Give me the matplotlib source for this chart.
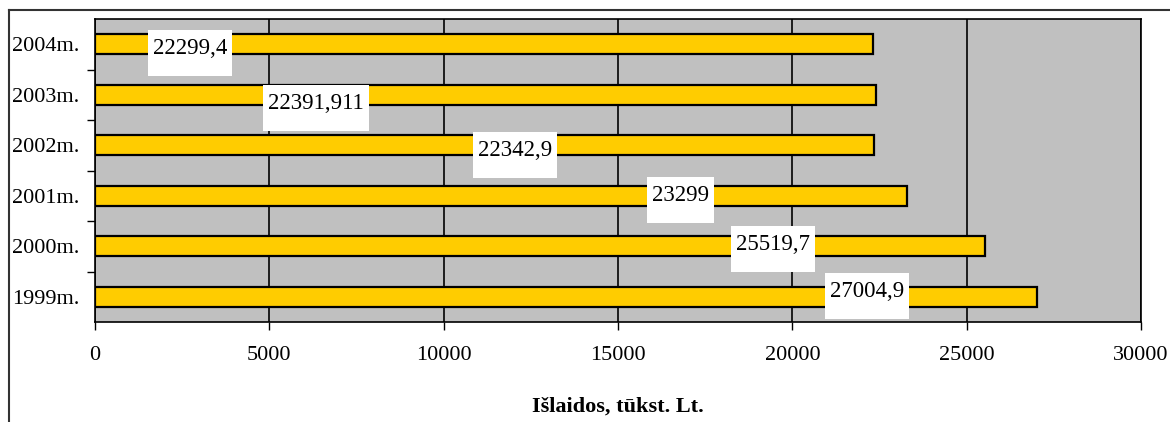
import matplotlib.pyplot as plt
from matplotlib.patches import Rectangle
from matplotlib.lines import Line2D

years = ["1999m.", "2000m.", "2001m.", "2002m.", "2003m.", "2004m."]
spending = [27004.9, 25519.7, 23299, 22342.9, 22391.911, 22299.4]
x_ticks = [0, 5000, 10000, 15000, 20000, 25000, 30000]

# where each value box sits: left edge (data units) and top offset from the bar centre
label_left = [20937, 18241, 15832, 10841, 4818, 1520]
label_top = [0.47, 0.40, 0.37, 0.26, 0.19, 0.28]

plt.rcParams["font.family"] = ["Liberation Serif", "DejaVu Serif"]

fig = plt.figure(figsize=(11.7, 4.22), dpi=100)
ax = fig.add_axes([95 / 1170, 1 - 322 / 422, 1046 / 1170, 303 / 422])

pos = list(range(len(years)))
ax.barh(pos, spending, height=0.4, color="#FFCC00", edgecolor="black",
        linewidth=1.6, zorder=2)

ax.set_facecolor("#C0C0C0")
ax.set_xlim(0, 30000)
ax.set_ylim(-0.5, len(years) - 0.5)
ax.set_xticks(x_ticks)
ax.set_xticklabels([str(t) for t in x_ticks], fontsize=16)
ax.set_yticks(pos)
ax.set_yticklabels(years, fontsize=16)
ax.set_yticks([p + 0.5 for p in pos[:-1]], minor=True)
ax.tick_params(axis="y", which="major", length=0, pad=11)
ax.tick_params(axis="y", which="minor", length=6, width=1, direction="out")
ax.tick_params(axis="x", length=6, width=1, direction="out", pad=11)
ax.grid(axis="x", color="black", linewidth=1.2, zorder=1)
ax.set_axisbelow(True)
for s in ax.spines.values():
    s.set_color("black")
    s.set_linewidth(1.2)

fig.text(618 / 1170, 1 - 407 / 422, "Išlaidos, tūkst. Lt.", fontsize=16,
         fontweight="bold", ha="center", va="center")

# value boxes: white rectangles with the text near their top edge
fig.canvas.draw()
renderer = fig.canvas.get_renderer()
inv = ax.transData.inverted()
for i, v in enumerate(spending):
    text = str(v).replace(".", ",")
    x0, y0 = ax.transData.transform((label_left[i], i + label_top[i]))
    t = ax.text(x0 + 5, y0 - 8, text, fontsize=16.5, ha="left", va="top",
                transform=None, zorder=4)
    w = t.get_window_extent(renderer).width + 10
    (dx0, dy0) = inv.transform((x0, y0 - 46))
    (dx1, dy1) = inv.transform((x0 + w, y0))
    ax.add_patch(Rectangle((dx0, dy0), dx1 - dx0, dy1 - dy0,
                           facecolor="white", edgecolor="none", zorder=3))

# outer frame of the chart area
fx, fy = 9 / 1170, 1 - 10 / 422
fig.add_artist(Line2D([fx, fx], [0, fy], color="#333333", linewidth=1.5))
fig.add_artist(Line2D([fx, 1], [fy, fy], color="#333333", linewidth=1.5))

fig.savefig("out.png", dpi=100)
